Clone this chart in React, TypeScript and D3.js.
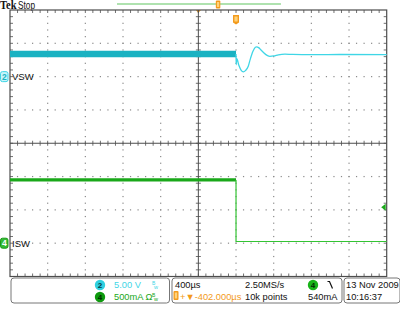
import React from 'react';
import * as d3 from 'd3';

// Horizontal: time in µs relative to trigger, 400 µs/div, 10 divs
const timeDomain = [-2400, 1600];
const divsX = 10;
const divsY = 8;

// Channel 2 (VSW), 5 V/div, ground at +2 div
const ch2Offset = 2;
const ch2Scale = 5;
const vswBandTime = [-2400, 0];
const vswBandV = [3.38, 3.38];
const vswTime = [0, 1, 8, 30, 55, 78, 100, 130, 150, 180, 205, 220, 240, 265, 290, 330, 360, 400, 450, 520, 600, 800, 1100, 1600];
const vswV = [3.38, 1.8, 2.7, 1.7, 0.95, 0.72, 0.9, 1.55, 2.55, 3.8, 4.4, 4.47, 4.35, 4.0, 3.65, 3.2, 3.05, 3.1, 3.28, 3.38, 3.33, 3.3, 3.32, 3.31];

// Channel 4 (ISW), 500 mA/div, ground at -3 div
const ch4Offset = -3;
const ch4Scale = 0.5;
const iswBandTime = [-2400, 0];
const iswBandA = [0.95, 0.95];
const iswTime = [0, 0, 1600];
const iswA = [0.95, 0.025, 0.025];
const trigLevelA = 0.54;

const recordBarTime = [-1264, 477]; // displayed record window bar (top)
const recordMarkTime = [-190];

const ch2Readout = ['2', '5.00 V'];
const ch4Readout = ['4', '500mA Ω'];
const horizReadout = ['400µs', '2.50MS/s', '+▼-402.000µs', '10k points'];
const trigReadout = ['4', '540mA'];
const dateReadout = ['13 Nov 2009', '10:16:37'];

const CYAN_BAND = '#1ab2c2';
const CYAN = '#3fd6e6';
const GREEN_BAND = '#1aa81a';
const GREEN = '#33c433';
const ORANGE = '#f39a1a';
const GRID = '#4d4d4d';
const DOT = '#8a8a8a';

export default function App() {
  const L = 10, R = 386.7, T = 10, B = 276.5;
  const x = d3.scaleLinear().domain(timeDomain).range([L, R]);
  const yDiv = d3.scaleLinear().domain([-divsY / 2, divsY / 2]).range([B, T]);
  const y2 = (v: number) => yDiv(ch2Offset + v / ch2Scale);
  const y4 = (a: number) => yDiv(ch4Offset + a / ch4Scale);
  const dxDiv = (R - L) / divsX;
  const dyDiv = (B - T) / divsY;
  const cx = (L + R) / 2;
  const cy = yDiv(0);

  const lineV = d3.line<number>().x((_, i) => x(vswTime[i])).y((d) => y2(d)).curve(d3.curveMonotoneX);
  const lineVBand = d3.line<number>().x((_, i) => x(vswBandTime[i])).y((d) => y2(d));
  const lineIBand = d3.line<number>().x((_, i) => x(iswBandTime[i])).y((d) => y4(d));
  const lineI = d3.line<number>().x((_, i) => x(iswTime[i])).y((d) => y4(d));

  // grid dots
  const dots: JSX.Element[] = [];
  for (let k = 1; k < divsX; k++) {
    if (k === divsX / 2) continue;
    const gx = L + k * dxDiv;
    for (let m = 1; m < divsY * 5; m++) {
      const gy = T + (m * dyDiv) / 5;
      dots.push(<rect key={`v${k}-${m}`} x={gx - 0.6} y={gy - 0.6} width={1.2} height={1.2} fill={DOT} />);
    }
  }
  for (let j = 1; j < divsY; j++) {
    if (j === divsY / 2) continue;
    const gy = T + j * dyDiv;
    for (let m = 1; m < divsX * 5; m++) {
      const gx = L + (m * dxDiv) / 5;
      dots.push(<rect key={`h${j}-${m}`} x={gx - 0.6} y={gy - 0.6} width={1.2} height={1.2} fill={DOT} />);
    }
  }
  // ticks
  const ticks: JSX.Element[] = [];
  for (let m = 1; m < divsX * 5; m++) {
    const gx = L + (m * dxDiv) / 5;
    ticks.push(<line key={`tt${m}`} x1={gx} x2={gx} y1={T} y2={T + 3} stroke={GRID} strokeWidth={0.8} />);
    ticks.push(<line key={`tb${m}`} x1={gx} x2={gx} y1={B} y2={B - 3} stroke={GRID} strokeWidth={0.8} />);
    ticks.push(<line key={`tc${m}`} x1={gx} x2={gx} y1={cy - 2.5} y2={cy + 2.5} stroke={GRID} strokeWidth={0.8} />);
  }
  for (let m = 1; m < divsY * 5; m++) {
    const gy = T + (m * dyDiv) / 5;
    ticks.push(<line key={`tl${m}`} x1={L} x2={L + 3} y1={gy} y2={gy} stroke={GRID} strokeWidth={0.8} />);
    ticks.push(<line key={`tr${m}`} x1={R} x2={R - 3} y1={gy} y2={gy} stroke={GRID} strokeWidth={0.8} />);
    ticks.push(<line key={`tm${m}`} x1={cx - 2.5} x2={cx + 2.5} y1={gy} y2={gy} stroke={GRID} strokeWidth={0.8} />);
  }

  const font = 'Liberation Sans, Arial, sans-serif';
  const trigX = x(0);
  const ch2Y = y2(0);
  const ch4Y = y4(0);
  const trigY = y4(trigLevelA);
  const markX = x(recordMarkTime[0]);

  return (
    <svg width={400} height={318} style={{ position: 'absolute', left: 0, top: 0, background: '#fff' }} fontFamily={font}>
      <rect x={0} y={0} width={400} height={318} fill="#fff" />
      {/* header */}
      <text x={0} y={9} fontFamily="Liberation Serif, serif" fontWeight="bold" fontSize={11.5} fill="#111" textLength={16.5} lengthAdjust="spacingAndGlyphs">Tek</text>
      <text x={18} y={9} fontSize={11} fill="#111" textLength={17} lengthAdjust="spacingAndGlyphs">Stop</text>
      <line x1={x(recordBarTime[0])} x2={x(recordBarTime[1])} y1={4} y2={4} stroke="#95d995" strokeWidth={1.6} />
      <rect x={markX - 2.3} y={0.5} width={4.5} height={8} rx={1} fill={ORANGE} />
      <rect x={markX - 1.2} y={2} width={2.3} height={5} fill="#ffd27a" />
      <path d={`M${cx - 2.5},${T} L${cx + 2.5},${T} L${cx},${T + 3} Z`} fill={ORANGE} />
      {/* grid */}
      {dots}
      {ticks}
      <rect x={L} y={T} width={R - L} height={B - T} fill="none" stroke={GRID} strokeWidth={1.2} />
      <line x1={L} x2={R} y1={cy} y2={cy} stroke={GRID} strokeWidth={1} />
      <line x1={cx} x2={cx} y1={T} y2={B} stroke={GRID} strokeWidth={1} />
      {/* trigger position marker */}
      <path d={`M${trigX - 3},${15} h6 v7.5 l-3,2 l-3,-2 Z`} fill={ORANGE} />
      <rect x={trigX - 1.6} y={16.5} width={3.2} height={5} fill="#ffd27a" />
      {/* traces */}
      <path d={lineVBand(vswBandV) || ''} fill="none" stroke={CYAN_BAND} strokeWidth={6.5} />
      <path d={lineV(vswV) || ''} fill="none" stroke={CYAN} strokeWidth={1.3} />
      <path d={lineIBand(iswBandA) || ''} fill="none" stroke={GREEN_BAND} strokeWidth={3.2} />
      <path d={lineI(iswA) || ''} fill="none" stroke={GREEN} strokeWidth={1.2} />
      {/* channel markers */}
      <rect x={0.5} y={ch2Y - 5} width={7.5} height={10} rx={2} fill="#c8f4fa" stroke={CYAN} strokeWidth={1} />
      <text x={4.3} y={ch2Y + 3.2} fontSize={8.5} textAnchor="middle" fill="#1ab2c2" fontWeight="bold">2</text>
      <text x={12} y={ch2Y + 3.5} fontSize={9.5} fill="#111">VSW</text>
      <rect x={0.5} y={ch4Y - 5} width={7.5} height={10} rx={2} fill="#33bb33" stroke="#1a9a1a" strokeWidth={1} />
      <text x={4.3} y={ch4Y + 3.2} fontSize={8.5} textAnchor="middle" fill="#fff" fontWeight="bold">4</text>
      <text x={12} y={ch4Y + 3.5} fontSize={9.5} fill="#111">ISW</text>
      <path d={`M${R - 5.5},${trigY} L${R - 1},${trigY - 3.5} L${R - 1},${trigY + 3.5} Z`} fill={GREEN_BAND} />
      {/* readout boxes */}
      <rect x={11} y={278} width={158.5} height={25} rx={3} fill="none" stroke="#777" strokeWidth={1} />
      <rect x={172} y={278} width={170} height={25} rx={3} fill="none" stroke="#777" strokeWidth={1} />
      <rect x={344} y={278} width={56} height={25} rx={3} fill="none" stroke="#777" strokeWidth={1} />
      {/* ch2 readout */}
      <circle cx={100} cy={285} r={5.2} fill="#2fd0e0" />
      <text x={100} y={288} fontSize={8} textAnchor="middle" fill="#003a44" fontWeight="bold">{ch2Readout[0]}</text>
      <text x={114} y={288.2} fontSize={9.3} fill={CYAN}>{ch2Readout[1]}</text>
      <text x={152} y={284.5} fontSize={5} fill={CYAN}>B</text>
      <text x={154} y={288.5} fontSize={5.5} fill={CYAN}>w</text>
      {/* ch4 readout */}
      <circle cx={100} cy={297} r={5.2} fill="#0e9a0e" />
      <text x={100} y={300} fontSize={8} textAnchor="middle" fill="#002a00" fontWeight="bold">{ch4Readout[0]}</text>
      <text x={114} y={300.2} fontSize={9.3} fill={GREEN_BAND}>{ch4Readout[1]}</text>
      <text x={152} y={296.5} fontSize={5} fill={GREEN_BAND}>B</text>
      <text x={154} y={300.5} fontSize={5.5} fill={GREEN_BAND}>w</text>
      {/* horizontal readout */}
      <text x={175} y={288.2} fontSize={9.3} fill="#111">{horizReadout[0]}</text>
      <text x={245} y={288.2} fontSize={9.3} fill="#111">{horizReadout[1]}</text>
      <rect x={173.5} y={291} width={5} height={9} rx={1} fill={ORANGE} />
      <rect x={174.8} y={292.5} width={2.4} height={6} fill="#ffd27a" />
      <text x={180} y={300.2} fontSize={9.3} fill={ORANGE}>{horizReadout[2]}</text>
      <text x={245} y={300.2} fontSize={9.3} fill="#111">{horizReadout[3]}</text>
      {/* trigger readout */}
      <circle cx={313} cy={285} r={5.2} fill="#18b418" />
      <text x={313} y={288} fontSize={8} textAnchor="middle" fill="#002a00" fontWeight="bold">{trigReadout[0]}</text>
      <path d="M327.5,281.5 h2 l3,7" fill="none" stroke="#111" strokeWidth={1.2} />
      <text x={337.5} y={300.2} fontSize={9.3} textAnchor="end" fill="#111">{trigReadout[1]}</text>
      {/* date */}
      <text x={346} y={288.2} fontSize={9.3} fill="#111">{dateReadout[0]}</text>
      <text x={346} y={300.2} fontSize={9.3} fill="#111">{dateReadout[1]}</text>
    </svg>
  );
}
